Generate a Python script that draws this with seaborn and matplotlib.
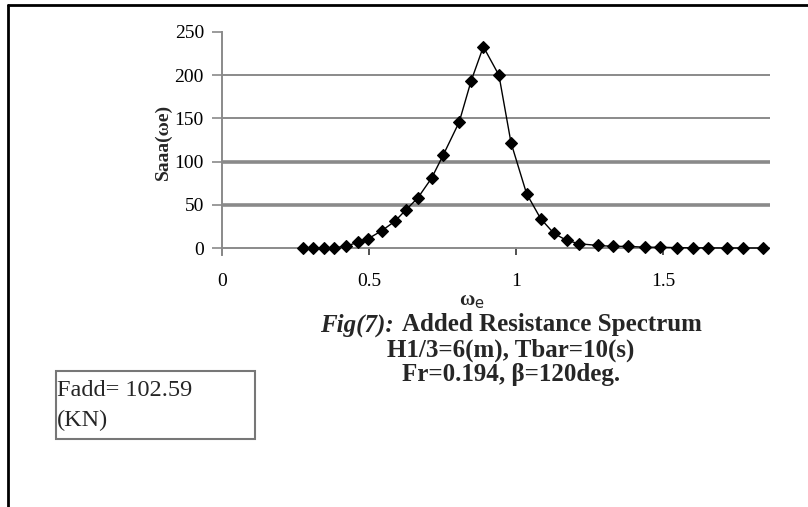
import matplotlib
matplotlib.use("Agg")
import matplotlib.pyplot as plt
import seaborn as sns
import pandas as pd
from matplotlib.lines import Line2D
from matplotlib.patches import Rectangle

# ---- data ----
omega_e = [0.277, 0.311, 0.347, 0.382, 0.421, 0.464, 0.498, 0.543, 0.588, 0.625,
           0.666, 0.713, 0.753, 0.807, 0.847, 0.889, 0.942, 0.983, 1.036, 1.084,
           1.129, 1.172, 1.215, 1.280, 1.331, 1.382, 1.439, 1.490, 1.547, 1.603,
           1.654, 1.717, 1.773, 1.841]
s_aaa = [0.0, 0.0, 0.0, 0.5, 2.0, 7.0, 11.0, 20.0, 31.0, 44.0,
         58.0, 81.0, 108.0, 146.0, 193.0, 233.0, 200.0, 122.0, 63.0, 34.0,
         17.0, 9.0, 5.0, 3.0, 2.0, 2.0, 1.0, 1.0, 0.5, 0.3,
         0.2, 0.1, 0.1, 0.1]
y_ticks = [0, 50, 100, 150, 200, 250]
x_ticks = [0, 0.5, 1, 1.5]
x_tick_labels = ["0", "0.5", "1", "1.5"]
caption_title_a = "Fig(7):"
caption_title_b = "Added Resistance Spectrum"
caption_line2 = "H1/3=6(m), Tbar=10(s)"
caption_line3 = "Fr=0.194, \u03b2=120deg."
box_lines = ["Fadd= 102.59", "(KN)"]

df = pd.DataFrame({"omega": omega_e, "S": s_aaa})

sns.set_theme(style="white")
plt.rcParams["font.family"] = ["Liberation Serif", "DejaVu Serif"]

W, H = 808, 507
fig = plt.figure(figsize=(W / 100, H / 100), dpi=100)
fig.patch.set_facecolor("white")

def fx(px):
    return px / W

def fy(py):
    return 1 - py / H

ax_left, ax_right, ax_top, ax_bot = 222, 770, 32, 255
ax = fig.add_axes([fx(ax_left), fy(ax_bot), fx(ax_right - ax_left), (ax_bot - ax_top) / H])
ax.set_facecolor("white")

grid_col = "#8a8a8a"
for val in y_ticks[1:-1]:
    lw = 2.6 if val in (50, 100) else 1.4
    ax.axhline(val, color=grid_col, lw=lw, zorder=1)
ax.axhline(0, color=grid_col, lw=1.4, zorder=1)

sns.lineplot(data=df, x="omega", y="S", ax=ax, sort=False, color="black",
             linewidth=1.0, marker="D", markersize=6.5, markeredgecolor="black",
             markeredgewidth=0.8, zorder=3)

ax.set_xlim(0, 1.864)
ax.set_ylim(-8, 250)
for s in ["top", "right", "bottom"]:
    ax.spines[s].set_visible(False)
ax.spines["left"].set_color(grid_col)
ax.spines["left"].set_linewidth(1.4)

ax.set_yticks(y_ticks)
ax.set_yticklabels([str(v) for v in y_ticks])
ax.set_xticks(x_ticks)
ax.set_xticklabels(x_tick_labels)
ax.tick_params(axis="y", direction="out", length=7, width=1.2, color=grid_col,
               left=True, labelsize=14, pad=6, labelcolor="black")
ax.tick_params(axis="x", direction="in", length=5.5, width=1.2, color="#333333",
               bottom=True, labelsize=14, pad=13, labelcolor="black")

ax.set_xlabel("")
ax.set_ylabel("")
fig.text(fx(472), fy(301), "\u03c9$_\\mathrm{e}$", fontsize=15, fontweight="bold",
         ha="center", va="center")
fig.text(fx(163), fy(142), "Saaa(\u03c9e)", fontsize=14, fontweight="bold",
         rotation=90, ha="center", va="center")

# captions
cap_fs = 18
renderer = fig.canvas.get_renderer()
ta = fig.text(0, fy(325), caption_title_a, fontsize=cap_fs, fontweight="bold",
              fontstyle="italic", ha="left", va="center")
tb = fig.text(0, fy(325), caption_title_b, fontsize=cap_fs, fontweight="bold",
              ha="left", va="center")
wa = ta.get_window_extent(renderer).width
wb = tb.get_window_extent(renderer).width
gap = 9
total = wa + gap + wb
start = 511 - total / 2
ta.set_x(fx(start))
tb.set_x(fx(start + wa + gap))
fig.text(fx(511), fy(350), caption_line2, fontsize=cap_fs, fontweight="bold",
         ha="center", va="center")
fig.text(fx(511), fy(375), caption_line3, fontsize=cap_fs, fontweight="bold",
         ha="center", va="center")

# info box
fig.add_artist(Rectangle((fx(56), fy(439)), fx(255 - 56), (439 - 371) / H,
                         transform=fig.transFigure, fill=False,
                         edgecolor="#777777", linewidth=1.5))
fig.text(fx(57), fy(390), box_lines[0], fontsize=17.5, ha="left", va="center")
fig.text(fx(57), fy(420), box_lines[1], fontsize=17.5, ha="left", va="center")

# outer frame (top and left)
fig.add_artist(Line2D([fx(8), 1.0], [fy(5), fy(5)], transform=fig.transFigure,
                      color="black", lw=2))
fig.add_artist(Line2D([fx(8), fx(8)], [fy(5), 0.0], transform=fig.transFigure,
                      color="black", lw=2))

fig.savefig("out.png", dpi=100, facecolor="white")
